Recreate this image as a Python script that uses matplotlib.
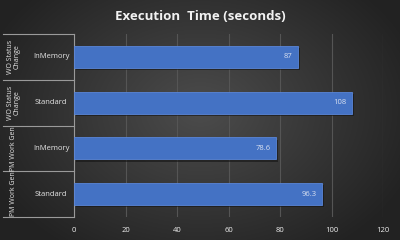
import numpy as np
import matplotlib
matplotlib.use("Agg")
import matplotlib.pyplot as plt
from matplotlib.lines import Line2D

groups = ["WO Status\nChange", "WO Status\nChange", "PM Work Gen", "PM Work Gen"]
modes = ["InMemory", "Standard", "InMemory", "Standard"]
values = [87, 108, 78.6, 96.3]
value_labels = ["87", "108", "78.6", "96.3"]
xticks = [0, 20, 40, 60, 80, 100, 120]
title = "Execution  Time (seconds)"

plt.rcParams['font.family'] = ['Open Sans', 'DejaVu Sans']

W, H = 400, 240
fig = plt.figure(figsize=(4, 2.4), dpi=100)

# radial gradient background
bg = fig.add_axes([0, 0, 1, 1])
yy, xx = np.mgrid[0:H, 0:W]
cx, cy = 200, 110
r = np.sqrt(((xx - cx) / 230.0) ** 2 + ((yy - cy) / 170.0) ** 2)
r = np.clip(r, 0, 1)
c_in = np.array([76, 76, 76]) / 255
c_out = np.array([34, 34, 34]) / 255
img = c_in[None, None, :] * (1 - r[..., None]) + c_out[None, None, :] * r[..., None]
bg.imshow(img, extent=[0, W, H, 0], aspect='auto')
bg.set_axis_off()

L, R = 74, 383
ax = fig.add_axes([L / W, 1 - 217 / H, (R - L) / W, (217 - 34) / H])
ax.patch.set_alpha(0)
ypos = np.arange(len(values))
bar_h = 0.48
# shadow
ax.barh(ypos + 0.05, values, height=bar_h, left=0.7, color='#141414', alpha=0.6, zorder=2)
bars = ax.barh(ypos, values, height=bar_h, color='#4472C4', edgecolor='#5a86d8', linewidth=0.6, zorder=3)
for y, v, lab in zip(ypos, values, value_labels):
    ax.text(v - 2.0, y, lab, ha='right', va='center', fontsize=5.5, color='#d8e0f0', zorder=4)

ax.set_xlim(0, 120)
ax.set_ylim(len(values) - 0.5, -0.5)
ax.set_xticks(xticks)
ax.set_xticklabels([str(t) for t in xticks])
ax.tick_params(axis='x', length=0, colors='#eeeeee', labelsize=5.5, pad=7)
ax.set_yticks([])
ax.grid(axis='x', color='#555555', linewidth=0.8, zorder=0)
for s in ['top', 'right', 'bottom']:
    ax.spines[s].set_visible(False)
ax.spines['left'].set_color('#9a9a9a')
ax.spines['left'].set_linewidth(0.8)

# category labels (two-level)
trans = ax.get_yaxis_transform()
sx = (R - L)
for y, m in zip(ypos, modes):
    ax.text(-23 / sx, y, m, transform=trans, ha='center', va='center', fontsize=5.5, color='#e6e6e6', clip_on=False)
for y, g in zip(ypos, groups):
    ax.text(-60 / sx, y, g, transform=trans, ha='center', va='center', rotation=90, fontsize=5.0,
            color='#e6e6e6', linespacing=1.0, clip_on=False)
for b in np.arange(len(values) + 1) - 0.5:
    ax.add_line(Line2D([-71 / sx, 0], [b, b], transform=trans, color='#9a9a9a', linewidth=0.8, clip_on=False))

fig.text(0.5, 1 - 16 / H, title, ha='center', va='center', fontsize=9.5, fontweight='bold', color='#f2f2f2')

fig.savefig('out.png', dpi=100)
